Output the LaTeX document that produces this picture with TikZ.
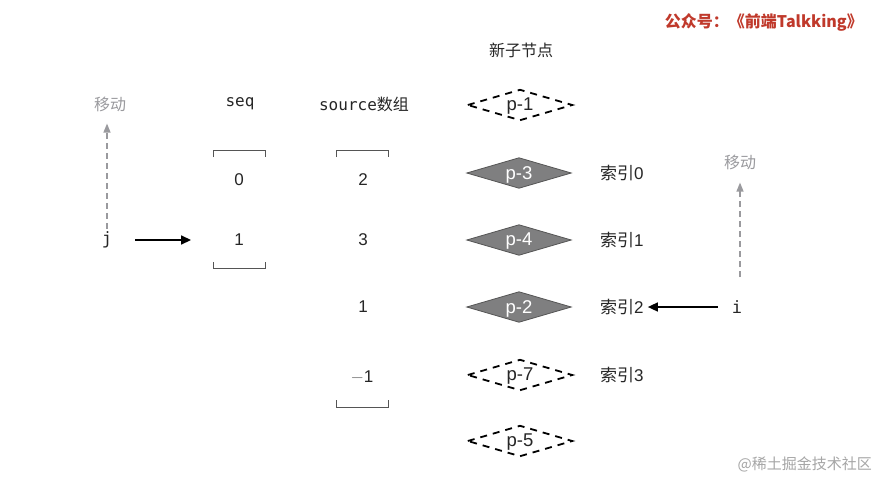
\documentclass[tikz,border=0pt]{standalone}
\usepackage{fontspec}
\setmainfont{Liberation Sans}
\setmonofont{DejaVu Sans Mono}
\newfontfamily\cjk{Noto Sans CJK SC}
\usetikzlibrary{arrows.meta}
\definecolor{wmred}{HTML}{C0392B}
\definecolor{dgray}{HTML}{555555}
\definecolor{mgray}{HTML}{7F7F80}
\definecolor{lgray}{HTML}{9A9A9E}
\tikzset{
  txt/.style={font=\fontsize{17}{19}\selectfont, text=black!85, inner sep=1pt},
  mono/.style={font=\fontsize{16}{18}\selectfont\ttfamily, text=black!85, inner sep=1pt},
  gtxt/.style={font=\fontsize{16}{18}\selectfont\cjk, text=lgray, inner sep=1pt},
  dbox/.style={inner sep=0pt, minimum width=104pt, minimum height=30pt},
  dlabel/.style={inner sep=0pt, font=\fontsize{18.5}{20}\selectfont, yshift=-1.5pt},
  solid dia/.style={fill=mgray, draw=dgray, line width=0.8pt},
  dash dia/.style={draw=black, line width=1.8pt, dash pattern=on 7pt off 6pt},
  bracket/.style={draw=dgray, line width=1pt},
  arr/.style={-{Triangle[length=10pt,width=9pt]}, line width=1.5pt, black},
  garr/.style={-{Triangle[length=9pt,width=7pt]}, line width=1.3pt, lgray, dash pattern=on 6pt off 4pt}
}
\newcommand{\diapath}[2]{%
  \draw[#1] (#2.west) -- (#2.north) -- (#2.east) -- (#2.south) -- cycle;}
\begin{document}
\begin{tikzpicture}[x=1pt,y=-1pt]
\useasboundingbox[fill=white] (0,0) rectangle (878,480);

% header / watermark
\node[anchor=east, font=\fontsize{16}{18}\selectfont\cjk\bfseries, text=wmred, inner sep=0pt] (brand) at (863,22) {公众号：《前端Talkking》};
\node[anchor=east, font=\fontsize{15}{18}\selectfont\cjk, text=black!35, inner sep=0pt] (jj) at (872,464) {@稀土掘金技术社区};

% title
\node[txt, font=\fontsize{16}{18}\selectfont\cjk] (title) at (521,50) {新子节点};

% left columns
\node[gtxt] (mv1) at (110,104) {移动};
\node[mono] (seqlbl) at (240,104) {seq};
\node[mono] (srclbl) at (364,104) {source{\cjk 数组}};

\node[txt] (s0) at (239,180) {0};
\node[txt] (s1) at (239,240) {1};
\node[txt] (a0) at (363,180) {2};
\node[txt] (a1) at (363,240) {3};
\node[txt] (a2) at (363,307) {1};
\node[txt] (a3) at (362,377) {\textcolor{black!60}{$-$}1};

\node[mono, font=\fontsize{17}{19}\selectfont\ttfamily] (j) at (107,240) {j};

% brackets
\draw[bracket] (213,157) -- (213,150) -- (265,150) -- (265,157);
\draw[bracket] (213,262) -- (213,268) -- (265,268) -- (265,262);
\draw[bracket] (336,157) -- (336,150) -- (388,150) -- (388,157);
\draw[bracket] (336,400) -- (336,407) -- (388,407) -- (388,400);

% diamonds
\node[dbox] (p1) at (520,105) {};
\node[dbox] (p3) at (519,173) {};
\node[dbox] (p4) at (519,240) {};
\node[dbox] (p2) at (519,307) {};
\node[dbox] (p7) at (520,375) {};
\node[dbox] (p5) at (520,441) {};
\diapath{dash dia}{p1}
\diapath{solid dia}{p3}
\diapath{solid dia}{p4}
\diapath{solid dia}{p2}
\diapath{dash dia}{p7}
\diapath{dash dia}{p5}
\node[dlabel, text=black!85] at (p1) {p-1};
\node[dlabel, text=white] at (p3) {p-3};
\node[dlabel, text=white] at (p4) {p-4};
\node[dlabel, text=white] at (p2) {p-2};
\node[dlabel, text=black!85] at (p7) {p-7};
\node[dlabel, text=black!85] at (p5) {p-5};

% index labels
\node[txt, anchor=west] (i0) at (599,173) {{\cjk 索引}0};
\node[txt, anchor=west] (i1) at (599,240) {{\cjk 索引}1};
\node[txt, anchor=west] (i2) at (599,307) {{\cjk 索引}2};
\node[txt, anchor=west] (i3) at (599,375) {{\cjk 索引}3};

% i pointer
\node[mono, font=\fontsize{17}{19}\selectfont\ttfamily] (ip) at (737,307) {i};
\node[gtxt] (mv2) at (740,162) {移动};

% arrows
\draw[arr, shorten <=22pt, shorten >=42pt] (j) -- (s1);
\draw[garr, shorten <=2pt, shorten >=11pt] (j.north) -- (j.north |- mv1.south);
\draw[arr, shorten <=13pt, shorten >=3pt] (ip) -- (i2.east);
\coordinate (ibase) at (740,277);
\draw[garr, shorten >=12pt] (ibase) -- (mv2.south);
\end{tikzpicture}
\end{document}
